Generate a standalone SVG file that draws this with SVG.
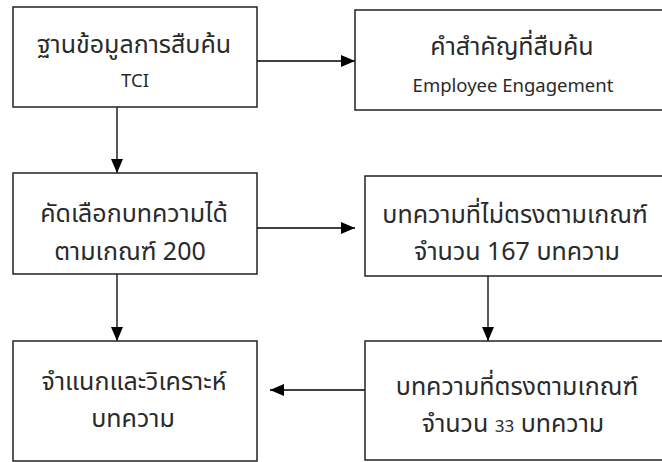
<svg xmlns="http://www.w3.org/2000/svg" width="662" height="462" viewBox="0 0 662 462">
<style>
.box{fill:#fff;stroke:#222;stroke-width:1.5}
.th{font-family:"Noto Sans","Noto Sans Thai","DejaVu Sans",sans-serif;font-size:25px;fill:#2a2a2a;text-anchor:middle}
.en{font-family:"Noto Sans","DejaVu Sans",sans-serif;font-size:18.5px;fill:#2a2a2a;text-anchor:middle}
.edge{stroke:#000;stroke-width:1.3;fill:none;marker-end:url(#ah)}
</style>
<defs>
<marker id="ah" markerWidth="14" markerHeight="12" refX="14" refY="6" orient="auto" markerUnits="userSpaceOnUse">
<path d="M0,0 L14,6 L0,12 Z" fill="#000"/>
</marker>
</defs>
<g id="connectors">
<line class="edge" x1="257" y1="61" x2="355" y2="61"/>
<line class="edge" x1="117" y1="107" x2="117" y2="173"/>
<line class="edge" x1="257" y1="228" x2="355" y2="228"/>
<line class="edge" x1="117" y1="274" x2="117" y2="341"/>
<line class="edge" x1="488" y1="276" x2="488" y2="341"/>
<line class="edge" x1="365" y1="390" x2="270" y2="390"/>
</g>
<g id="n1">
<rect class="box" x="13" y="7" width="244" height="100"/>
<text class="th" x="134" y="53">ฐานข้อมูลการสืบค้น</text>
<text class="en" x="135" y="87">TCI</text>
</g>
<g id="n2">
<rect class="box" x="355" y="10" width="350" height="100"/>
<text class="th" x="512" y="55">คำสำคัญที่สืบค้น</text>
<text class="en" x="513" y="92">Employee Engagement</text>
</g>
<g id="n3">
<rect class="box" x="13" y="173" width="244" height="101"/>
<text class="th" x="134" y="222">คัดเลือกบทความได้</text>
<text class="th" x="130" y="260">ตามเกณฑ์ 200</text>
</g>
<g id="n4">
<rect class="box" x="365" y="176" width="340" height="100"/>
<text class="th" x="515" y="223">บทความที่ไม่ตรงตามเกณฑ์</text>
<text class="th" x="517" y="260">จำนวน 167 บทความ</text>
</g>
<g id="n5">
<rect class="box" x="13" y="341" width="244" height="120"/>
<text class="th" x="134" y="390">จำแนกและวิเคราะห์</text>
<text class="th" x="133" y="427">บทความ</text>
</g>
<g id="n6">
<rect class="box" x="365" y="341" width="340" height="119"/>
<text class="th" x="517" y="395">บทความที่ตรงตามเกณฑ์</text>
<text class="th" x="513" y="432">จำนวน <tspan style="font-size:17px">33</tspan> บทความ</text>
</g>
</svg>
